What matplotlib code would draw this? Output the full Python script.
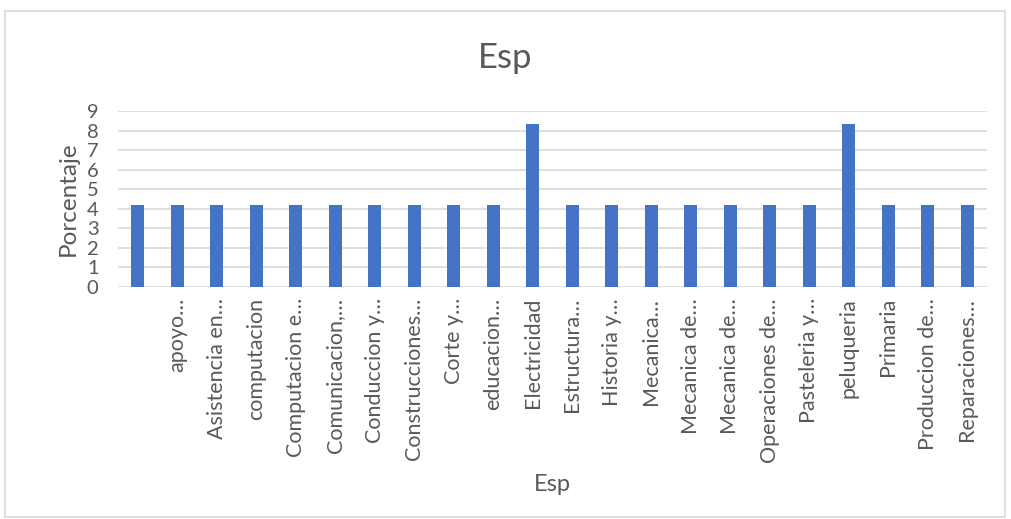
import matplotlib.pyplot as plt
from matplotlib.patches import Rectangle

plt.rcParams['font.family'] = ['Lato', 'DejaVu Sans']

# categories as shown (Excel truncates long names)
labels = ['', 'apoyo…', 'Asistencia en…', 'computacion', 'Computacion e…',
          'Comunicacion,…', 'Conduccion y…', 'Construcciones…', 'Corte y…',
          'educacion…', 'Electricidad', 'Estructura…', 'Historia y…',
          'Mecanica…', 'Mecanica de…', 'Mecanica de…', 'Operaciones de…',
          'Pasteleria y…', 'peluqueria', 'Primaria', 'Produccion de…',
          'Reparaciones…']
porcentaje = [4.17, 4.17, 4.17, 4.17, 4.17, 4.17, 4.17, 4.17, 4.17, 4.17,
              8.33, 4.17, 4.17, 4.17, 4.17, 4.17, 4.17, 4.17, 8.33, 4.17,
              4.17, 4.17]

grey = '#595959'
fig = plt.figure(figsize=(10.11, 5.19), dpi=100)
fig.patches.append(Rectangle((5/1011, 2/519), 1000/1011, 506/519,
                             transform=fig.transFigure, fill=False,
                             edgecolor='#d9d9d9', linewidth=1.2))

ax = fig.add_axes([118/1011, 1 - 287/519, 869/1011, 176/519])
x = list(range(len(labels)))
ax.bar(x, porcentaje, width=0.33, color='#4472c4', zorder=3)

ax.set_xlim(-0.5, len(labels) - 0.5)
ax.set_ylim(0, 9)
ax.set_yticks(range(10))
ax.set_xticks(x)
ax.set_xticklabels(labels, rotation=90, va='top', ha='center')
ax.tick_params(axis='both', length=0, colors=grey, labelsize=15.5)
ax.tick_params(axis='y', pad=14, labelsize=14.5)
ax.tick_params(axis='x', pad=8)
ax.grid(axis='y', color='#d9d9d9', linewidth=1.2, zorder=0)
for s in ax.spines.values():
    s.set_visible(False)

ax.set_ylabel('Porcentaje', color=grey, fontsize=17.5, labelpad=6)
ax.set_xlabel('Esp', color=grey, fontsize=17, labelpad=8)
fig.text(0.5, 1 - 58/519, 'Esp', ha='center', va='center', color=grey, fontsize=25)

plt.savefig('out.png', dpi=100)
